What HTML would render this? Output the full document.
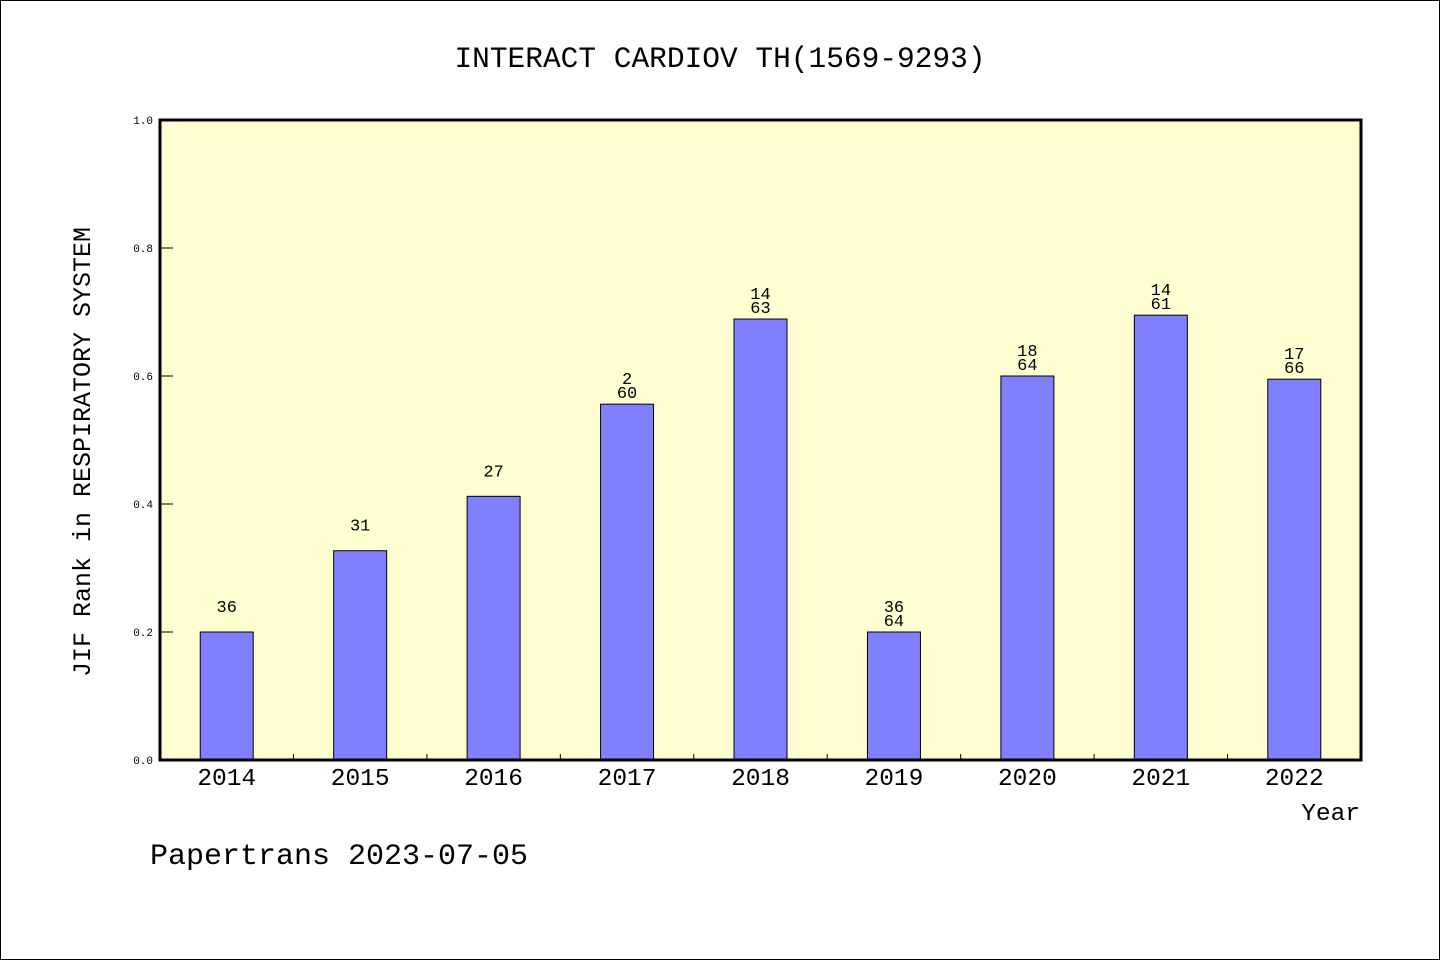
<!DOCTYPE html>
<html><head><meta charset="utf-8"><style>
body{margin:0;background:#fff}
svg text{font-family:"Liberation Mono","DejaVu Sans Mono",monospace}
</style></head><body>
<svg id="c" width="1440" height="960" xmlns="http://www.w3.org/2000/svg">
<rect x="0.5" y="0.5" width="1439" height="959" fill="#fff" stroke="#000"/>
<text x="720" y="67" font-size="29.5" text-anchor="middle">INTERACT CARDIOV TH(1569-9293)</text>
<rect x="160" y="120" width="1201" height="640" fill="#ffffd2"/>
<g id="g"></g>
<rect x="160" y="120" width="1201" height="640" fill="none" stroke="#000" stroke-width="3"/>
<text x="90" y="452" font-size="25" text-anchor="middle" transform="rotate(-90 90 452)">JIF Rank in RESPIRATORY SYSTEM</text>
<text x="1360" y="820" font-size="24.5" text-anchor="end">Year</text>
<text x="150" y="864" font-size="30">Papertrans 2023-07-05</text>
</svg>
<script>
const years=["2014","2015","2016","2017","2018","2019","2020","2021","2022"];
const values=[0.2,0.327,0.412,0.556,0.689,0.2,0.6,0.695,0.595];
const rankTop=["36","31","27","2","14","36","18","14","17"];
const rankBottom=["","","","60","63","64","64","61","66"];
const yTicks=[0,0.2,0.4,0.6,0.8,1.0];
const L=160,R=1361,T=120,B=760;
const bw=(R-L)/years.length;
const y=v=>B-(B-T)*v;
const x=i=>L+bw*(i+0.5);
const g=document.getElementById('g');
const NS="http://www.w3.org/2000/svg";
function mk(t,a){const e=document.createElementNS(NS,t);for(const k in a)e.setAttribute(k,a[k]);g.appendChild(e);return e;}
yTicks.forEach(v=>{
 const l=mk('line',{x1:160,x2:173,y1:y(v),y2:y(v),stroke:'#000'});
 
 
 const t=mk('text',{x:153,y:y(v)+4,'font-size':11,'text-anchor':'end'});t.textContent=v.toFixed(1);
 
 
});
years.forEach((yr,i)=>{
 if(i>0){const l=mk('line',{x1:L+bw*i,x2:L+bw*i,y1:B-6,y2:B,stroke:'#000'});
 
 }
 const r=mk('rect',{x:x(i)-26.5,y:y(values[i]),width:53,height:B-y(values[i]),fill:'#8080ff',stroke:'#000','stroke-width':1});
 
 
 const t=mk('text',{x:x(i),y:785,'font-size':24.5,'text-anchor':'middle'});t.textContent=yr;
 
 
 const top=y(values[i]);
 const a=mk('text',{x:x(i),y:top-20,'font-size':17,'text-anchor':'middle'});a.textContent=rankTop[i];
 
 
 if(rankBottom[i]){
  const b=mk('text',{x:x(i),y:top-6,'font-size':17,'text-anchor':'middle'});b.textContent=rankBottom[i];
  
  
 }
});
</script>
</body></html>
